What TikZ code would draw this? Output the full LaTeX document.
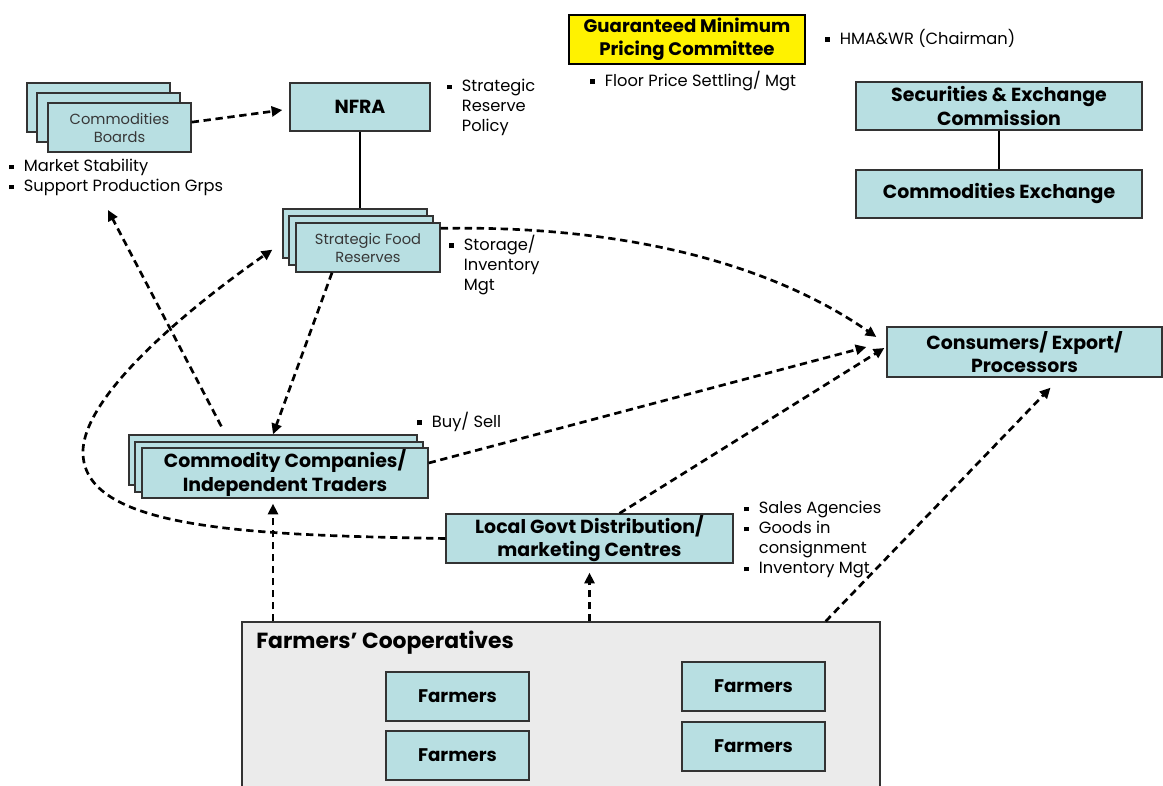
\documentclass[tikz,border=0pt]{standalone}
\usepackage{fontspec}
\setmainfont{Poppins}
\usetikzlibrary{positioning,arrows.meta}

\definecolor{boxteal}{RGB}{184,223,226}
\definecolor{coopgray}{RGB}{235,235,235}
\definecolor{textgray}{RGB}{55,55,55}
\newcommand{\sq}{\rule[0.25ex]{0.3em}{0.3em}\hspace{0.6em}}
\newcommand{\sqind}{\phantom{\sq}}

\begin{document}
\begin{tikzpicture}[
  x=0.75pt, y=-0.75pt,
  sz/.style 2 args={minimum width=#1*0.75pt, minimum height=#2*0.75pt},
  box/.style={rectangle, draw=black!80, line width=1pt, fill=boxteal, inner sep=0pt, align=center, font=\fontsize{14.2}{17.5}\selectfont\bfseries},
  smallbox/.style={box, font=\fontsize{11}{13.5}\selectfont, text=textgray},
  farmbox/.style={box, sz={143}{49}, font=\fontsize{13.7}{15}\selectfont\bfseries},
  note/.style={align=left, inner sep=0pt, anchor=north west, font=\fontsize{12.2}{15}\selectfont},
  flow/.style={-{Triangle[length=8pt, width=7.5pt]}, line width=2pt, dash pattern=on 5.5pt off 3.5pt},
  link/.style={line width=0.8pt}
]
\useasboundingbox (0,0) rectangle (1163,785);
\clip (0,0) rectangle (1163,785);

% Top: pricing committee and exchange
\node[box, sz={236}{49}, fill=yellow, draw=black, font=\fontsize{13.6}{17}\selectfont\bfseries] (gmpc) at (687,39.5) {Guaranteed Minimum\\Pricing Committee};
\node[note, anchor=west] (hma) at (825,38) {\sq HMA\&WR (Chairman)};
\node[note, anchor=west] (floor) at (590,81) {\sq Floor Price Settling/ Mgt};

\node[box, sz={286}{48}] (sec) at (999,106) {Securities \& Exchange\\Commission};
\node[box, sz={286}{48}] (ce) at (999,194) {Commodities Exchange};
\draw[link] (sec.south) -- (ce.north);

% Left: boards and NFRA
\node[smallbox, sz={143}{49}] (cbC) at (98.5,107.5) {};
\node[smallbox, sz={143}{49}] (cbB) at (108.5,117.5) {};
\node[smallbox, sz={143}{49}] (cb) at (119.5,127.5) {Commodities\\Boards};
\node[note] (stability) at (9,159) {\sq Market Stability\\\sq Support Production Grps};

\node[box, sz={140}{48}] (nfra) at (360,107) {NFRA};
\node[note] (policy) at (447,79) {\sq Strategic\\\sqind Reserve\\\sqind Policy};

% Strategic food reserves
\node[smallbox, sz={144}{49}] (sfrC) at (355,233.5) {};
\node[smallbox, sz={144}{49}] (sfrB) at (361,240.5) {};
\node[smallbox, sz={144}{49}] (sfr) at (368,247.5) {Strategic Food\\Reserves};
\node[note] (storage) at (449,235) {\sq Storage/\\\sqind Inventory\\\sqind Mgt};
\draw[link] (nfra.south) -- (nfra.south |- sfrC.north);

% Traders and local centres
\node[box, sz={288}{50}] (ccC) at (273,460) {};
\node[box, sz={288}{50}] (ccB) at (279,467) {};
\node[box, sz={286}{50}] (cc) at (285,473) {Commodity Companies/\\Independent Traders};
\node[note, anchor=west] (buysell) at (417,422) {\sq Buy/ Sell};

\node[box, sz={287}{49}] (lg) at (589.5,538.5) {Local Govt Distribution/\\marketing Centres};
\node[note] (sales) at (744,501) {\sq Sales Agencies\\\sq Goods in\\\sqind consignment\\\sq Inventory Mgt};

% Right: consumers
\node[box, sz={275}{50}] (cons) at (1024.5,352) {Consumers/ Export/\\Processors};

% Bottom: cooperatives
\node[rectangle, draw=black!80, line width=1pt, fill=coopgray, sz={638}{178}] (coop) at (561,711) {};
\node[anchor=west, inner sep=0pt, font=\fontsize{16.4}{18}\selectfont\bfseries] (cooptitle) at (256,643) {Farmers' Cooperatives};
\node[farmbox] (farmA) at (457.5,696.5) {Farmers};
\node[farmbox] (farmB) at (457.5,755.5) {Farmers};
\node[farmbox] (farmC) at (753.5,686.5) {Farmers};
\node[farmbox] (farmD) at (753.5,746.5) {Farmers};

% Free end above the boards' notes
\coordinate (stab) at (108,210);

% Flows
\draw[flow] ([yshift=4pt]cb.east) -- ([shift={(-7,3)}]nfra.west);
\draw[flow] ([shift={(93,-8)}]ccC.north west) -- (stab);
\draw[flow] ([xshift=-27pt]sfr.south) -- (ccC.north);
\draw[flow] ([shift={(0,6)}]sfr.north east) .. controls (640,225) and (780,270) .. ([shift={(-10,-15)}]cons.west);
\draw[flow] (lg.west) .. controls (250,535) and (80,530) .. (83,450) .. controls (86,390) and (200,300) .. ([shift={(-10,-9)}]sfrC.south west);
\draw[flow] ([shift={(0,-10)}]cc.east) -- ([shift={(-20,-5)}]cons.west);
\draw[flow] ([shift={(30,0)}]lg.north) -- ([shift={(-2,-4)}]cons.west);
\draw[flow] (coop.north -| ccC.south) -- ([shift={(0,5)}]cc.south -| ccC.south);
\draw[flow] (coop.north -| lg.south) -- ([shift={(0,9)}]lg.south);
\draw[flow] ([shift={(-55,0)}]coop.north east) -- ([shift={(26,10)}]cons.south);

\end{tikzpicture}
\end{document}
